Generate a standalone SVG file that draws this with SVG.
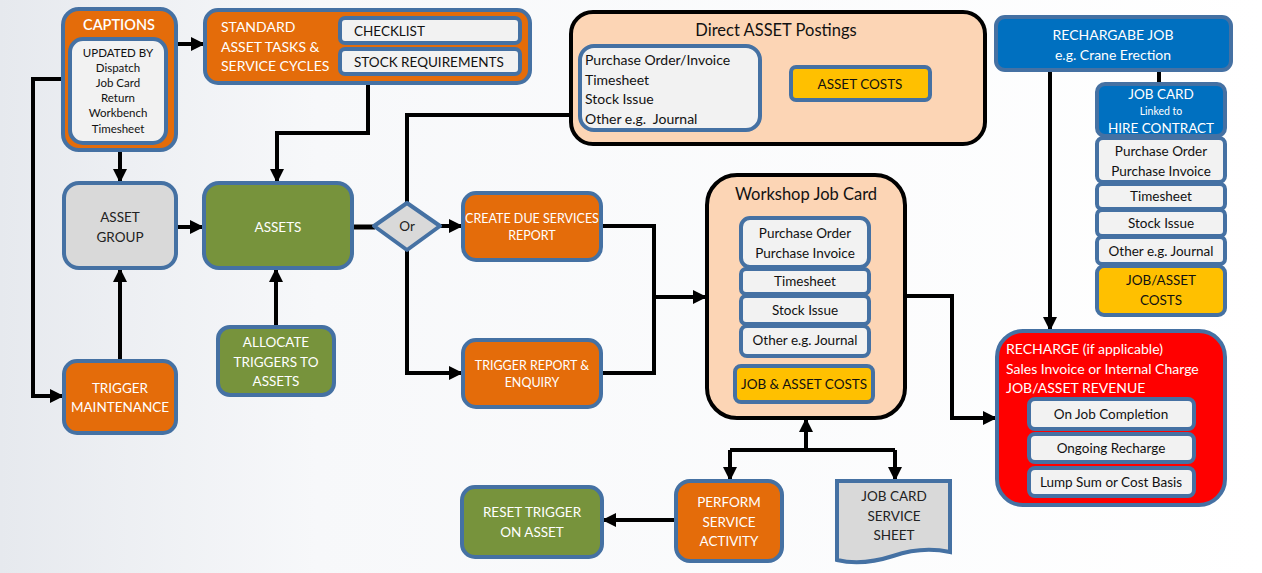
<svg xmlns="http://www.w3.org/2000/svg" width="1262" height="573" viewBox="0 0 1262 573">
<defs>
<linearGradient id="bg" x1="0" y1="0" x2="1" y2="0">
<stop offset="0" stop-color="#e6e9ee"/>
<stop offset="0.25" stop-color="#f7f8fa"/>
<stop offset="1" stop-color="#ffffff"/>
</linearGradient>
<marker id="ah" markerUnits="userSpaceOnUse" markerWidth="14" markerHeight="14" viewBox="0 0 14 14" refX="13" refY="7" orient="auto">
<path d="M0,0 L14,7 L0,14 Z" fill="#000"/>
</marker>
<style>
text{font-family:Lato,"Liberation Sans",sans-serif;}
.b{stroke:#4571A3;stroke-width:4;}
.org{fill:#E46C0A;}
.grn{fill:#77933C;}
.gry{fill:#D9D9D9;}
.lt{fill:#F2F2F2;}
.yel{fill:#FFC000;}
.blu{fill:#0070C0;}
.red{fill:#FF0000;}
.pch{fill:#FCD5B5;stroke:#000;stroke-width:4;}
.w{fill:#fff;}
.k{fill:#111;}
.c{text-anchor:middle;}
.ln{fill:none;stroke:#000;stroke-width:4;}
.ar{fill:none;stroke:#000;stroke-width:4;marker-end:url(#ah);}
</style>
</defs>
<rect x="0" y="0" width="1262" height="573" fill="url(#bg)"/>

<g id="connectors">
<path class="ar" d="M176,44 H204"/>
<path class="ar" d="M120,150 V182"/>
<path class="ar" d="M63,79 H33 V396 H63"/>
<path class="ar" d="M368,83 V133 H277 V182"/>
<path class="ar" d="M176,227 H203"/>
<path class="ar" d="M120,361 V269"/>
<path class="ar" d="M276,327 V269"/>
<path class="ln" d="M352,227 H375" style="stroke-width:5"/>
<path class="ar" d="M440,226 H462"/>
<path class="ln" d="M407,203 V115 H570"/>
<path class="ar" d="M407,250 V373 H462"/>
<path class="ln" d="M601,226 H654 V373 H601"/>
<path class="ar" d="M654,297 H706"/>
<path class="ar" d="M905,296 H952 V418 H996"/>
<path class="ar" d="M806,450 V419"/>
<path class="ln" d="M730,450 H895"/>
<path class="ar" d="M730,450 V480"/>
<path class="ar" d="M895,450 V480"/>
<path class="ar" d="M676,520 H603"/>
<path class="ar" d="M1050,70 V330"/>
<path class="ln" d="M1159,70 V84"/>
</g>

<g id="captions">
<rect x="63" y="9" width="113" height="141" rx="16" class="org b"/>
<text x="119" y="30" class="w c" font-size="14.5" font-weight="600">CAPTIONS</text>
<rect x="70" y="39" width="96" height="104" rx="13" class="lt b"/>
<g class="k c" font-size="11.5">
<text x="118" y="57">UPDATED BY</text>
<text x="118" y="72">Dispatch</text>
<text x="118" y="87">Job Card</text>
<text x="118" y="102">Return</text>
<text x="118" y="117">Workbench</text>
<text x="118" y="133">Timesheet</text>
</g>
</g>

<g id="standard">
<rect x="205" y="10" width="325" height="73" rx="13" class="org b"/>
<g class="w" font-size="14">
<text x="221" y="32">STANDARD</text>
<text x="221" y="52">ASSET TASKS &amp;</text>
<text x="221" y="71">SERVICE CYCLES</text>
</g>
<rect x="340" y="18" width="180" height="25" rx="5" class="lt b"/>
<text x="354" y="36" class="k" font-size="13.5">CHECKLIST</text>
<rect x="340" y="49" width="180" height="25" rx="5" class="lt b"/>
<text x="354" y="67" class="k" font-size="13.5">STOCK REQUIREMENTS</text>
</g>

<g id="direct-postings">
<rect x="571" y="12" width="414" height="132" rx="22" class="pch"/>
<text x="776" y="36" class="k c" font-size="16.5">Direct ASSET Postings</text>
<rect x="580" y="46" width="180" height="84" rx="14" class="lt b"/>
<g class="k" font-size="14">
<text x="585" y="65">Purchase Order/Invoice</text>
<text x="585" y="85">Timesheet</text>
<text x="585" y="104">Stock Issue</text>
<text x="585" y="124" xml:space="preserve">Other e.g.  Journal</text>
</g>
<rect x="791" y="67" width="139" height="33" rx="5" class="yel b"/>
<text x="860" y="89" class="k c" font-size="13.5">ASSET COSTS</text>
</g>

<g id="rechargeable-job">
<rect x="996" y="17" width="235" height="53" rx="9" class="blu b"/>
<g class="w c" font-size="14">
<text x="1113" y="40">RECHARGABE JOB</text>
<text x="1113" y="60">e.g. Crane Erection</text>
</g>
</g>

<g id="job-card-hire">
<rect x="1097" y="84" width="128" height="52" rx="8" class="blu b"/>
<text x="1161" y="99" class="w c" font-size="13.5">JOB CARD</text>
<text x="1161" y="115" class="w c" font-size="10.5">Linked to</text>
<text x="1161" y="133" class="w c" font-size="13.5">HIRE CONTRACT</text>
<rect x="1097" y="138" width="128" height="44" rx="6" class="lt b"/>
<text x="1161" y="156" class="k c" font-size="13.5">Purchase Order</text>
<text x="1161" y="176" class="k c" font-size="13.5">Purchase Invoice</text>
<rect x="1097" y="184" width="128" height="25" rx="5" class="lt b"/>
<text x="1161" y="201" class="k c" font-size="13.5">Timesheet</text>
<rect x="1097" y="210" width="128" height="26" rx="5" class="lt b"/>
<text x="1161" y="228" class="k c" font-size="13.5">Stock Issue</text>
<rect x="1097" y="237" width="128" height="27" rx="5" class="lt b"/>
<text x="1161" y="256" class="k c" font-size="13.5">Other e.g. Journal</text>
<rect x="1097" y="266" width="128" height="49" rx="7" class="yel b"/>
<text x="1161" y="285" class="k c" font-size="13.5">JOB/ASSET</text>
<text x="1161" y="305" class="k c" font-size="13.5">COSTS</text>
</g>

<g id="recharge">
<rect x="997" y="331" width="228" height="174" rx="26" class="red b"/>
<g class="w" font-size="14">
<text x="1006" y="354">RECHARGE (if applicable)</text>
<text x="1006" y="374">Sales Invoice or Internal Charge</text>
<text x="1006" y="393">JOB/ASSET REVENUE</text>
</g>
<rect x="1029" y="399" width="165" height="30" rx="6" class="lt b"/>
<text x="1111" y="419" class="k c" font-size="13.5">On Job Completion</text>
<rect x="1029" y="434" width="165" height="28" rx="6" class="lt b"/>
<text x="1111" y="453" class="k c" font-size="13.5">Ongoing Recharge</text>
<rect x="1029" y="468" width="165" height="28" rx="6" class="lt b"/>
<text x="1111" y="487" class="k c" font-size="13.5">Lump Sum or Cost Basis</text>
</g>

<g id="workshop-job-card">
<rect x="707" y="175" width="198" height="243" rx="30" class="pch"/>
<text x="806" y="200" class="k c" font-size="16.5">Workshop Job Card</text>
<rect x="741" y="218" width="128" height="49" rx="9" class="lt b"/>
<text x="805" y="238" class="k c" font-size="13.5">Purchase Order</text>
<text x="805" y="258" class="k c" font-size="13.5">Purchase Invoice</text>
<rect x="741" y="269" width="128" height="25" rx="5" class="lt b"/>
<text x="805" y="286" class="k c" font-size="13.5">Timesheet</text>
<rect x="741" y="296" width="128" height="28" rx="5" class="lt b"/>
<text x="805" y="315" class="k c" font-size="13.5">Stock Issue</text>
<rect x="741" y="326" width="128" height="30" rx="6" class="lt b"/>
<text x="805" y="345" class="k c" font-size="13.5">Other e.g. Journal</text>
<rect x="735" y="366" width="138" height="36" rx="6" class="yel b"/>
<text x="804" y="389" class="k c" font-size="13.5">JOB &amp; ASSET COSTS</text>
</g>

<g id="asset-group">
<rect x="64" y="183" width="112" height="85" rx="15" class="gry b"/>
<text x="120" y="222" class="c" fill="#222" font-size="13.5">ASSET</text>
<text x="120" y="242" class="c" fill="#222" font-size="13.5">GROUP</text>
</g>

<g id="assets">
<rect x="204" y="183" width="148" height="85" rx="15" class="grn b"/>
<text x="278" y="232" class="w c" font-size="13.5">ASSETS</text>
</g>

<g id="or">
<path d="M407,203 L440,226 L407,250 L374,226 Z" class="gry b" stroke-linejoin="round"/>
<text x="407" y="231" class="c" fill="#222" font-size="13.5">Or</text>
</g>

<g id="create-due">
<rect x="463" y="193" width="138" height="67" rx="13" class="org b"/>
<text x="532" y="223" class="w c" font-size="12.5">CREATE DUE SERVICES</text>
<text x="532" y="240" class="w c" font-size="12.5">REPORT</text>
</g>

<g id="trigger-report">
<rect x="463" y="340" width="138" height="67" rx="13" class="org b"/>
<text x="532" y="370" class="w c" font-size="12.5">TRIGGER REPORT &amp;</text>
<text x="532" y="387" class="w c" font-size="12.5">ENQUIRY</text>
</g>

<g id="allocate-triggers">
<rect x="218" y="327" width="116" height="68" rx="12" class="grn b"/>
<g class="w c" font-size="13.5">
<text x="276" y="347">ALLOCATE</text>
<text x="276" y="367">TRIGGERS TO</text>
<text x="276" y="386">ASSETS</text>
</g>
</g>

<g id="trigger-maintenance">
<rect x="64" y="361" width="112" height="72" rx="13" class="org b"/>
<text x="120" y="393" class="w c" font-size="13.5">TRIGGER</text>
<text x="120" y="412" class="w c" font-size="13.5">MAINTENANCE</text>
</g>

<g id="reset-trigger">
<rect x="462" y="487" width="140" height="70" rx="13" class="grn b"/>
<text x="532" y="517" class="w c" font-size="13.5">RESET TRIGGER</text>
<text x="532" y="537" class="w c" font-size="13.5">ON ASSET</text>
</g>

<g id="perform-service">
<rect x="676" y="481" width="106" height="80" rx="14" class="org b"/>
<g class="w c" font-size="13.5">
<text x="729" y="507">PERFORM</text>
<text x="729" y="527">SERVICE</text>
<text x="729" y="546">ACTIVITY</text>
</g>
</g>

<g id="job-card-sheet">
<path d="M837,481 H950 V552 Q922,546 893,556 Q862,566 837,560 Z" class="gry b"/>
<g class="c" fill="#222" font-size="13.5">
<text x="894" y="501">JOB CARD</text>
<text x="894" y="521">SERVICE</text>
<text x="894" y="540">SHEET</text>
</g>
</g>
</svg>
